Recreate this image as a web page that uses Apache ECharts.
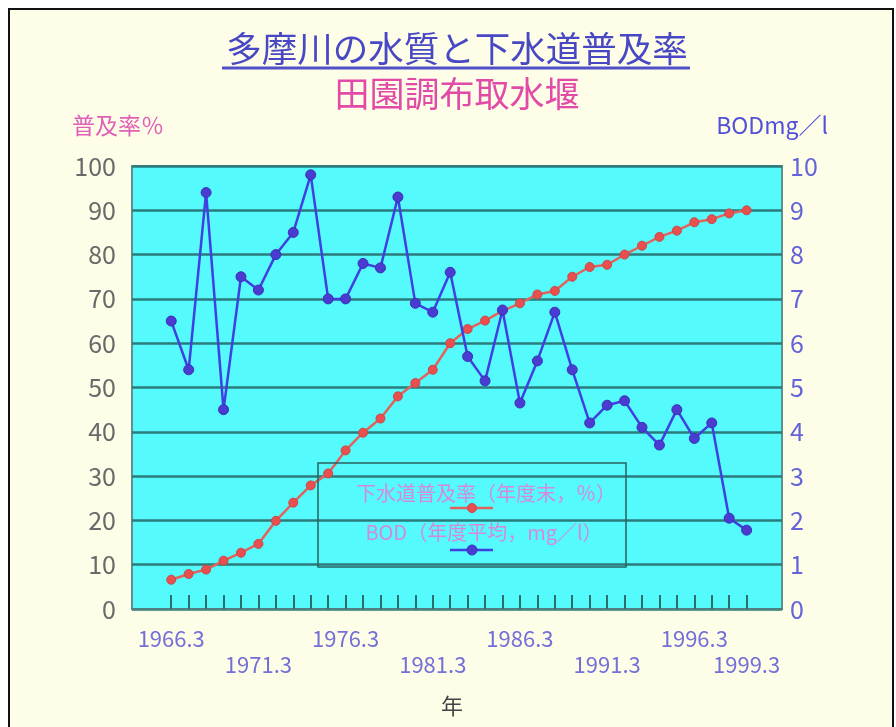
<!DOCTYPE html>
<html>
<head>
<meta charset="utf-8">
<script src="https://cdn.jsdelivr.net/npm/echarts@6/dist/echarts.min.js"></script>
<style>
  html, body { margin: 0; padding: 0; background: #ffffff; }
  #chart { width: 896px; height: 727px; }
</style>
</head>
<body>
<div id="chart"></div>
<script>
// Fiscal years (end of March)
const years = [1966, 1967, 1968, 1969, 1970, 1971, 1972, 1973, 1974, 1975,
  1976, 1977, 1978, 1979, 1980, 1981, 1982, 1983, 1984, 1985,
  1986, 1987, 1988, 1989, 1990, 1991, 1992, 1993, 1994, 1995,
  1996, 1997, 1998, 1999];

// Sewerage coverage rate, % (end of fiscal year)
const sewerRate = [6.6, 7.9, 8.9, 10.9, 12.7, 14.7, 19.9, 24.0, 27.9, 30.6,
  35.8, 39.8, 43.0, 48.0, 51.0, 54.0, 60.0, 63.2, 65.1, 67.3,
  69.0, 71.0, 71.8, 75.0, 77.2, 77.7, 80.0, 82.0, 84.0, 85.4,
  87.3, 88.0, 89.3, 90.0];

// BOD, mg/l (fiscal year average)
const bod = [6.5, 5.4, 9.4, 4.5, 7.5, 7.2, 8.0, 8.5, 9.8, 7.0,
  7.0, 7.8, 7.7, 9.3, 6.9, 6.7, 7.6, 5.7, 5.15, 6.75,
  4.65, 5.6, 6.7, 5.4, 4.2, 4.6, 4.7, 4.1, 3.7, 4.5,
  3.85, 4.2, 2.05, 1.78];

// Tick labels, split over two staggered rows
const upperRowYears = [1966, 1976, 1986, 1996];
const lowerRowYears = [1971, 1981, 1991, 1999];

const titleText = '多摩川の水質と下水道普及率';
const subtitleText = '田園調布取水堰';
const leftAxisName = '普及率％';
const rightAxisName = 'BODmg／l';
const xAxisName = '年';
const sewerName = '下水道普及率（年度末，％）';
const bodName = 'BOD（年度平均，mg／l）';

const FONT = '"Noto Sans CJK JP", "Noto Sans", sans-serif';
const X_MIN = 1963.75;
const X_MAX = 2001.03;

const chart = echarts.init(document.getElementById('chart'), null, { renderer: 'canvas' });

const yearLabel = v => v + '.3';

const option = {
  backgroundColor: '#ffffff',
  animation: false,
  textStyle: { fontFamily: FONT },
  grid: {
    left: 132, right: 114, top: 166, bottom: 118,
    show: true,
    backgroundColor: '#55fafd',
    borderColor: '#5f8f8f',
    borderWidth: 2
  },
  xAxis: [
    {
      type: 'value',
      min: X_MIN,
      max: X_MAX,
      splitLine: { show: false },
      axisLine: { show: true, lineStyle: { color: '#4f7f7f', width: 2 } },
      axisTick: {
        show: true, inside: true, length: 14,
        customValues: years,
        lineStyle: { color: '#2b6e6e', width: 2 }
      },
      axisLabel: {
        customValues: upperRowYears,
        margin: 19,
        fontSize: 22,
        color: '#7470d8',
        fontFamily: FONT,
        hideOverlap: false,
        formatter: yearLabel
      },
      z: 5
    },
    {
      type: 'value',
      position: 'bottom',
      offset: 26,
      min: X_MIN,
      max: X_MAX,
      splitLine: { show: false },
      axisLine: { show: false },
      axisTick: { show: false },
      axisLabel: {
        customValues: lowerRowYears,
        margin: 19,
        fontSize: 22,
        color: '#7470d8',
        fontFamily: FONT,
        hideOverlap: false,
        formatter: yearLabel
      }
    }
  ],
  yAxis: [
    {
      type: 'value', min: 0, max: 100, interval: 10,
      axisLine: { show: false },
      axisTick: { show: false },
      axisLabel: { margin: 16, fontSize: 25, color: '#6a6a6a', fontFamily: FONT },
      splitLine: { show: true, lineStyle: { color: '#2b7b7b', width: 2.5 } }
    },
    {
      type: 'value', min: 0, max: 10, interval: 1,
      position: 'right',
      axisLine: { show: false },
      axisTick: { show: false },
      axisLabel: { margin: 8, fontSize: 25, color: '#6464d8', fontFamily: FONT },
      splitLine: { show: false }
    }
  ],
  series: [
    {
      name: sewerName,
      type: 'line',
      xAxisIndex: 0,
      yAxisIndex: 0,
      data: years.map((y, i) => [y, sewerRate[i]]),
      lineStyle: { color: '#e0645c', width: 2.5 },
      symbol: 'circle',
      symbolSize: 9,
      itemStyle: { color: '#ea4f4f', borderColor: '#c84848', borderWidth: 1 },
      z: 3
    },
    {
      name: bodName,
      type: 'line',
      xAxisIndex: 0,
      yAxisIndex: 1,
      data: years.map((y, i) => [y, bod[i]]),
      lineStyle: { color: '#3f3fe2', width: 2.5 },
      symbol: 'circle',
      symbolSize: 10,
      itemStyle: { color: '#4a3cd0', borderColor: '#3a30b8', borderWidth: 1 },
      z: 4
    }
  ],
  graphic: [
    // page frame
    {
      type: 'rect', z: -10, silent: true,
      shape: { x: 9, y: 9, width: 884, height: 740 },
      style: { fill: '#fdfde8', stroke: '#111111', lineWidth: 2 }
    },
    // titles
    {
      type: 'text', x: 457, y: 49, z: 10,
      style: {
        text: titleText, fill: '#4848c4', font: '35.5px ' + FONT,
        textAlign: 'center', textVerticalAlign: 'middle'
      }
    },
    {
      type: 'line', z: 10,
      shape: { x1: 222, y1: 68, x2: 690, y2: 68 },
      style: { stroke: '#5050c8', lineWidth: 3 }
    },
    {
      type: 'text', x: 457, y: 94, z: 10,
      style: {
        text: subtitleText, fill: '#e24aa8', font: '35px ' + FONT,
        textAlign: 'center', textVerticalAlign: 'middle'
      }
    },
    // axis names
    {
      type: 'text', x: 72, y: 125, z: 10,
      style: {
        text: leftAxisName, fill: '#e060b8', font: '23px ' + FONT,
        textAlign: 'left', textVerticalAlign: 'middle'
      }
    },
    {
      type: 'text', x: 828, y: 125, z: 10,
      style: {
        text: rightAxisName, fill: '#5050d8', font: '23px ' + FONT,
        textAlign: 'right', textVerticalAlign: 'middle'
      }
    },
    {
      type: 'text', x: 452, y: 706, z: 10,
      style: {
        text: xAxisName, fill: '#444444', font: '22px ' + FONT,
        textAlign: 'center', textVerticalAlign: 'middle'
      }
    },
    // legend box
    {
      type: 'rect', z: 5,
      shape: { x: 318, y: 463, width: 308, height: 104 },
      style: { fill: 'none', stroke: '#2b6060', lineWidth: 1.5 }
    },
    {
      type: 'text', x: 486, y: 493, z: 10,
      style: {
        text: sewerName, fill: '#d48ad8', font: '20px ' + FONT,
        textAlign: 'center', textVerticalAlign: 'middle'
      }
    },
    {
      type: 'line', z: 10,
      shape: { x1: 450, y1: 508, x2: 493, y2: 508 },
      style: { stroke: '#e0645c', lineWidth: 2.5 }
    },
    {
      type: 'circle', z: 11,
      shape: { cx: 472, cy: 508, r: 4.5 },
      style: { fill: '#ea4f4f', stroke: '#c84848', lineWidth: 1 }
    },
    {
      type: 'text', x: 484, y: 532, z: 10,
      style: {
        text: bodName, fill: '#d48ad8', font: '20px ' + FONT,
        textAlign: 'center', textVerticalAlign: 'middle'
      }
    },
    {
      type: 'line', z: 10,
      shape: { x1: 450, y1: 550, x2: 493, y2: 550 },
      style: { stroke: '#3f3fe2', lineWidth: 2.5 }
    },
    {
      type: 'circle', z: 11,
      shape: { cx: 472, cy: 550, r: 5 },
      style: { fill: '#4a3cd0', stroke: '#3a30b8', lineWidth: 1 }
    }
  ]
};

chart.setOption(option);
</script>
</body>
</html>
